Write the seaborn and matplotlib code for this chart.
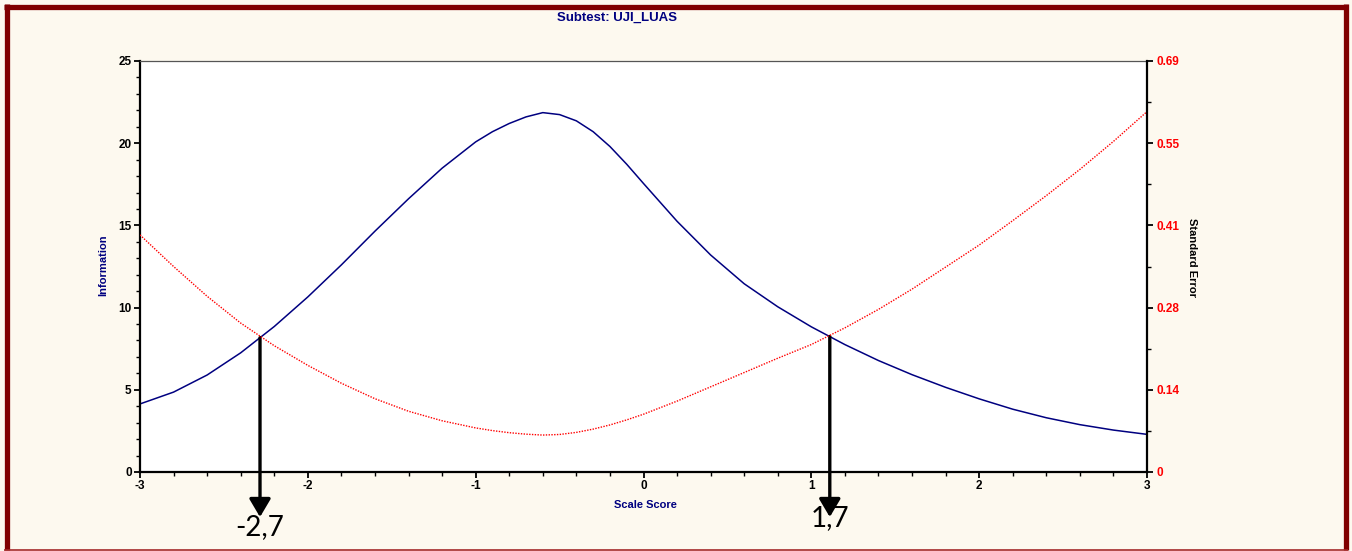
import numpy as np
import pandas as pd
import matplotlib
matplotlib.use("Agg")
import matplotlib.pyplot as plt
import seaborn as sns
from matplotlib.ticker import MultipleLocator, FixedLocator
from matplotlib.lines import Line2D

# ---------------- data ----------------
theta = [-3.0, -2.8, -2.6, -2.4, -2.2, -2.0, -1.8, -1.6, -1.4, -1.2, -1.0,
         -0.9, -0.8, -0.7, -0.6, -0.5, -0.4, -0.3, -0.2, -0.1, 0.0, 0.1, 0.2,
         0.4, 0.6, 0.8, 1.0, 1.2, 1.4, 1.6, 1.8, 2.0, 2.2, 2.4, 2.6, 2.8, 3.0]
information = [4.14, 4.86, 5.90, 7.25, 8.85, 10.65, 12.6, 14.65, 16.62, 18.48, 20.08,
               20.7, 21.2, 21.6, 21.86, 21.74, 21.36, 20.7, 19.8, 18.72, 17.55, 16.4, 15.25,
               13.2, 11.45, 10.05, 8.83, 7.75, 6.78, 5.92, 5.15, 4.45, 3.82, 3.30, 2.88, 2.55, 2.29]
std_error = [0.398, 0.345, 0.295, 0.250, 0.212, 0.179, 0.149, 0.123, 0.102, 0.086, 0.074,
             0.0695, 0.066, 0.0635, 0.062, 0.063, 0.0665, 0.072, 0.079, 0.0875, 0.097, 0.108, 0.119,
             0.143, 0.167, 0.191, 0.214, 0.242, 0.273, 0.307, 0.344, 0.381, 0.422, 0.464, 0.508, 0.555, 0.605]

x_ticks = [-3, -2, -1, 0, 1, 2, 3]
info_ticks = [0, 5, 10, 15, 20, 25]
se_ticks = [0, 0.138, 0.276, 0.414, 0.552, 0.69]
se_tick_labels = ["0", "0.14", "0.28", "0.41", "0.55", "0.69"]
se_minor = [0.069, 0.207, 0.345, 0.483, 0.621]

cut_scores = [-2.285, 1.11]
cut_info = [8.17, 8.24]
cut_labels = ["-2,7", "1,7"]

title = "Subtest: UJI_LUAS"
xlabel = "Scale Score"
ylabel_left = "Information"
ylabel_right = "Standard Error"

# ---------------- style ----------------
NAVY = "#000080"
sns.set_style("ticks")
plt.rcParams['font.family'] = ['Liberation Sans', 'DejaVu Sans']

W, H = 1352, 551
fig = plt.figure(figsize=(W / 100, H / 100), dpi=100, facecolor="#FDF9EF")
ax = fig.add_axes([140 / W, 1 - 472 / H, (1147 - 140) / W, (472 - 61) / H])
ax.set_facecolor("white")

df = pd.DataFrame({"theta": theta, "info": information, "se": std_error})
sns.lineplot(data=df, x="theta", y="info", ax=ax, color=NAVY, lw=1.1)
ax2 = ax.twinx()
sns.lineplot(data=df, x="theta", y="se", ax=ax2, color="red", lw=1.0,
             linestyle=(0, (1, 1)))

ax.set_xlim(-3, 3)
ax.set_ylim(0, 25)
ax2.set_ylim(0, 0.69)

ax.set_xticks(x_ticks)
ax.set_xticklabels([str(t) for t in x_ticks])
ax.set_yticks(info_ticks)
ax.set_yticklabels([str(t) for t in info_ticks])
ax.xaxis.set_minor_locator(MultipleLocator(0.2))
ax.yaxis.set_minor_locator(MultipleLocator(1))
ax2.set_yticks(se_ticks)
ax2.set_yticklabels(se_tick_labels)
ax2.yaxis.set_minor_locator(FixedLocator(se_minor))

for s in ["left", "bottom"]:
    ax.spines[s].set_linewidth(1.6)
    ax.spines[s].set_color("black")
ax.spines["top"].set_visible(True)
ax.spines["top"].set_linewidth(0.9)
ax.spines["top"].set_color("#555555")
ax.spines["right"].set_visible(False)
for s in ["left", "bottom", "top"]:
    ax2.spines[s].set_visible(False)
ax2.spines["right"].set_visible(True)
ax2.spines["right"].set_linewidth(1.6)
ax2.spines["right"].set_color("black")

ax.tick_params(axis="both", which="major", direction="out", length=4, width=1.3,
               labelsize=8.5, pad=2, colors="black")
ax.tick_params(axis="both", which="minor", direction="out", length=3, width=1.0,
               colors="black")
ax2.tick_params(axis="y", which="major", direction="out", length=4, width=1.3,
                labelsize=8.5, pad=3, color="black", labelcolor="red")
ax2.tick_params(axis="y", which="minor", direction="out", length=3, width=1.0,
                color="black")
for lab in ax.get_xticklabels() + ax.get_yticklabels() + ax2.get_yticklabels():
    lab.set_fontweight("bold")

ax.set_xlabel(xlabel, fontsize=8, fontweight="bold", color=NAVY, va="center", ha="center")
ax.xaxis.set_label_coords((645 - 140) / 1007, (472 - 505) / 411)
ax.set_ylabel(ylabel_left, fontsize=8, fontweight="bold", color=NAVY, va="center", ha="center")
ax.yaxis.set_label_coords((103 - 140) / 1007, (472 - 265) / 411)
ax2.set_ylabel(ylabel_right, fontsize=8, fontweight="bold", color="black",
               rotation=270, va="center", ha="center")
ax2.yaxis.set_label_coords((1192 - 140) / 1007, (472 - 258) / 411)

ax.text((617 - 140) / 1007, (472 - 18) / 411, title, transform=ax.transAxes,
        fontsize=9.5, fontweight="bold", color=NAVY, ha="center", va="center")

# arrows marking the cut points
label_y = [-3.35, -2.8]
for x0, yi, lab, ly in zip(cut_scores, cut_info, cut_labels, label_y):
    ax.annotate("", xy=(x0, -2.74), xytext=(x0, yi),
                arrowprops=dict(arrowstyle="-|>,head_length=1.1,head_width=0.65",
                                color="black", lw=2.4, shrinkA=0, shrinkB=0),
                annotation_clip=False, zorder=10)
    ax.text(x0, ly, lab, fontsize=20, family=["Lato", "DejaVu Sans"], color="black",
            ha="center", va="center", clip_on=False)

# frame around the figure
RED = "#800000"
frame_kw = dict(transform=fig.transFigure, color=RED, lw=3.8, solid_capstyle="butt")
fig.add_artist(Line2D([6.5 / W, 6.5 / W], [1 - 4 / H, 1 - 550 / H], **frame_kw))
fig.add_artist(Line2D([1345.5 / W, 1345.5 / W], [1 - 4 / H, 1 - 550 / H], **frame_kw))
fig.add_artist(Line2D([4 / W, 1348 / W], [1 - 6.5 / H, 1 - 6.5 / H], **frame_kw))
fig.add_artist(Line2D([4 / W, 1348 / W], [1 - 549.5 / H, 1 - 549.5 / H],
                      transform=fig.transFigure, color="#A52A2A", lw=1.2,
                      solid_capstyle="butt"))

fig.savefig("out.png", dpi=100, facecolor=fig.get_facecolor())
